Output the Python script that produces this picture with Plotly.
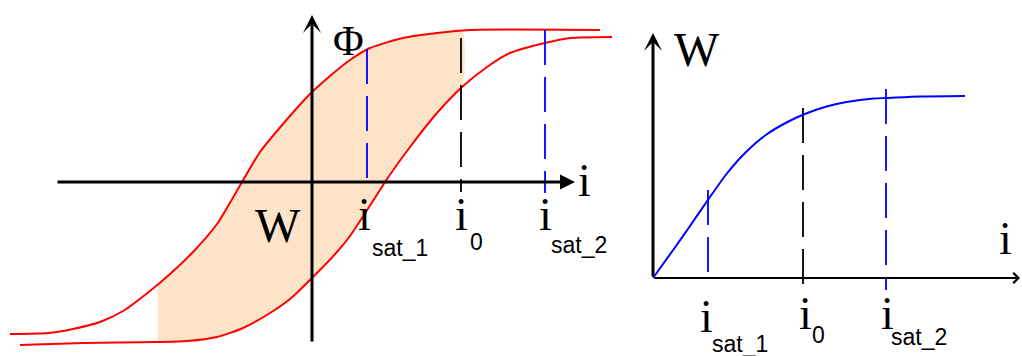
import numpy as np
import plotly.graph_objects as go

# left panel: hysteresis loop, flux Phi against current i
up_i = [-6.04, -5.28, -4.78, -4.24, -3.78, -3.24, -2.84, -2.38, -1.90, -1.40, -1.04, -0.58, -0.04, 0.36, 0.76,
        1.16, 1.82, 2.50, 3.16, 5.76]
up_phi = [-3.04, -3.02, -2.94, -2.80, -2.58, -2.18, -1.84, -1.40, -0.84, 0.0, 0.60, 1.16, 1.76, 2.12, 2.44,
          2.68, 2.88, 2.98, 3.04, 3.04]
low_i = [-5.84, -4.58, -3.08, -2.50, -1.90, -1.38, -0.84, -0.44, 0.0, 0.50, 0.76, 1.36, 1.46, 1.96, 2.50,
         3.00, 3.50, 3.96, 4.66, 5.16, 6.00]
low_phi = [-3.26, -3.22, -3.20, -3.18, -3.10, -2.92, -2.62, -2.34, -1.92, -1.40, -1.08, -0.16, 0.0, 0.70, 1.38,
           1.90, 2.30, 2.58, 2.78, 2.88, 2.90]
shade_from, shade_to = -3.08, 3.00

# left panel marker lines: i_sat_1, i_0, i_sat_2
left_mark_i = [1.10, 2.98, 4.66]
left_mark_top = [2.66, 2.88, 3.04]
left_mark_bot = [0.0, -0.20, -0.22]

# right panel: W against i
w_i = [0.0, 0.41, 0.74, 1.07, 1.47, 1.87, 2.27, 2.67, 3.01, 3.47, 3.87, 4.41, 4.67, 5.34, 6.24]
w_val = [0.0, 0.57, 1.04, 1.52, 2.08, 2.53, 2.87, 3.11, 3.27, 3.43, 3.52, 3.59, 3.60, 3.63, 3.64]
right_mark_i = [1.10, 3.00, 4.66]
right_mark_top = [1.76, 3.40, 3.78]
right_mark_bot = [0.10, -0.18, -0.24]

mark_colors = ["#0000ff", "#000000", "#0000ff"]

fig = go.Figure()

# shaded area between the branches
ua, ub = np.array(up_i), np.array(up_phi)
la, lb = np.array(low_i), np.array(low_phi)
m_up = (ua > shade_from) & (ua < shade_to)
m_lo = (la > shade_from) & (la < shade_to)
sx = [shade_from] + list(ua[m_up]) + [shade_to, shade_to] + list(la[m_lo][::-1]) + [shade_from]
sy = ([np.interp(shade_from, ua, ub)] + list(ub[m_up]) +
      [np.interp(shade_to, ua, ub), np.interp(shade_to, la, lb)] +
      list(lb[m_lo][::-1]) + [np.interp(shade_from, la, lb)])
fig.add_trace(go.Scatter(x=sx, y=sy, fill="toself", fillcolor="#fde4c8",
                         line=dict(width=0, shape="spline", smoothing=0.6), mode="lines", xaxis="x", yaxis="y"))

for xs, ys in [(up_i, up_phi), (low_i, low_phi)]:
    fig.add_trace(go.Scatter(x=xs, y=ys, mode="lines",
                             line=dict(color="#ff0000", width=2, shape="spline", smoothing=0.6),
                             xaxis="x", yaxis="y"))

for k in range(3):
    fig.add_trace(go.Scatter(x=[left_mark_i[k]] * 2, y=[left_mark_top[k], left_mark_bot[k]], mode="lines",
                             line=dict(color=mark_colors[k], width=1.8, dash="35px,12px"), xaxis="x", yaxis="y"))
    fig.add_trace(go.Scatter(x=[right_mark_i[k]] * 2, y=[right_mark_top[k], right_mark_bot[k]], mode="lines",
                             line=dict(color=mark_colors[k], width=1.8, dash="35px,12px"), xaxis="x2", yaxis="y2"))

fig.add_trace(go.Scatter(x=w_i, y=w_val, mode="lines",
                         line=dict(color="#0000ff", width=2, shape="spline", smoothing=0.6),
                         xaxis="x2", yaxis="y2"))

serif = "Liberation Serif, Times New Roman, serif"
sans = "Liberation Sans Narrow, Arial Narrow, Liberation Sans, Arial, sans-serif"

ann = []

# axis arrows
def arrow(x, y, ax, ay, xr, yr, w, head):
    ann.append(dict(x=x, y=y, ax=ax, ay=ay, xref=xr, yref=yr, axref=xr, ayref=yr, text="",
                    showarrow=True, arrowhead=head, arrowsize=1.0, arrowwidth=w, arrowcolor="black"))

arrow(5.26, 0, -5.12, 0, "x", "y", 3, 2)
arrow(0, 3.34, 0, -3.22, "x", "y", 3, 3)
arrow(7.34, 0, 0, 0, "x2", "y2", 2, 4)
arrow(0, 4.9, 0, 0, "x2", "y2", 3, 3)

def label(x, y, text, xr, yr, font, size):
    ann.append(dict(x=x, y=y, xref=xr, yref=yr, text=text, showarrow=False,
                    font=dict(family=font, size=size, color="black"), xanchor="center", yanchor="middle"))

label(0.72, 2.82, "Φ", "x", "y", serif, 42)
label(5.44, 0.04, "i", "x", "y", serif, 46)
label(-0.68, -0.86, "W", "x", "y", serif, 48)
label(1.04, -0.64, "i", "x", "y", serif, 46)
label(1.76, -1.32, "sat_1", "x", "y", sans, 23)
label(2.98, -0.64, "i", "x", "y", serif, 46)
label(3.28, -1.20, "0", "x", "y", sans, 23)
label(4.66, -0.64, "i", "x", "y", serif, 46)
label(5.34, -1.26, "sat_2", "x", "y", sans, 23)

label(0.88, 4.58, "W", "x2", "y2", serif, 48)
label(7.04, 0.8, "i", "x2", "y2", serif, 46)
label(1.06, -0.76, "i", "x2", "y2", serif, 46)
label(1.74, -1.32, "sat_1", "x2", "y2", sans, 23)
label(3.04, -0.70, "i", "x2", "y2", serif, 46)
label(3.30, -1.14, "0", "x2", "y2", sans, 23)
label(4.68, -0.70, "i", "x2", "y2", serif, 46)
label(5.32, -1.18, "sat_2", "x2", "y2", sans, 23)

split = 620 / 1022
fig.update_layout(
    width=1022, height=356, margin=dict(l=0, r=0, t=0, b=0),
    paper_bgcolor="white", plot_bgcolor="white", showlegend=False,
    xaxis=dict(domain=[0, split], range=[-6.24, 6.16], visible=False),
    yaxis=dict(domain=[0, 1], range=[-3.48, 3.64], visible=False, anchor="x"),
    xaxis2=dict(domain=[split, 1], range=[-0.66, 7.38], visible=False, anchor="y2"),
    yaxis2=dict(domain=[0, 1], range=[-1.56, 5.56], visible=False, anchor="x2"),
    annotations=ann,
)

fig.write_html("out.html", config={"displayModeBar": False},
               post_script="document.body.style.margin='0px';")
